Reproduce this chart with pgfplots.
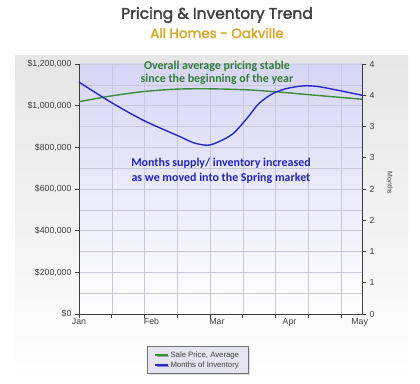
\documentclass[border=0pt]{standalone}
\usepackage{fontspec}
\setmainfont{Liberation Sans}
\newfontfamily\calfont{Carlito}
\newfontfamily\gothic[FakeBold=2.2]{Poppins}
\usepackage{pgfplots}
\pgfplotsset{compat=1.18}
\usetikzlibrary{shadows}
\definecolor{gline}{RGB}{60,140,60}
\definecolor{bline}{RGB}{40,40,200}
\definecolor{gtext}{RGB}{50,125,50}
\definecolor{btext}{RGB}{35,35,190}
\definecolor{gold}{RGB}{215,168,45}
\definecolor{titlegray}{RGB}{64,64,64}
\definecolor{gridc}{RGB}{200,200,220}
\definecolor{lav}{RGB}{214,214,246}
\definecolor{axc}{RGB}{60,60,60}
\definecolor{tickc}{RGB}{60,60,60}
\begin{document}
\begin{tikzpicture}
\useasboundingbox (0,0) rectangle (420bp,384bp);
\shade[top color=black!10, bottom color=white] (15bp,0) rectangle (408bp,328bp);
\node[font=\gothic\fontsize{15.5}{17}\selectfont, text=titlegray] at (217bp,369bp) {Pricing \& Inventory Trend};
\node[font=\gothic\fontsize{13.5}{15}\selectfont, text=gold] at (217bp,351bp) {All Homes - Oakville};
\begin{axis}[
  at={(79bp,70bp)}, anchor=south west,
  scale only axis, width=283bp, height=250bp,
  xmin=0, xmax=121, ymin=0, ymax=1200000,
  scaled y ticks=false,
  axis background/.style={top color=lav, bottom color=white},
  axis y line*=left, axis x line*=bottom,
  axis line style={axc, line width=0.9pt},
  xtick={0,14,...,112}, xticklabels={},
  extra x ticks={0,31,59,90,120},
  extra x tick labels={Jan,Feb,Mar,Apr,May},
  extra x tick style={major tick length=0pt, grid=none, xticklabel style={yshift=-1bp}},
  ytick={0,200000,...,1200000},
  yticklabels={\$0,{\$200,000},{\$400,000},{\$600,000},{\$800,000},{\$1,000,000},{\$1,200,000}},
  minor ytick={100000,300000,...,1100000},
  minor tick length=0pt,
  major tick length=4bp,
  tick align=outside,
  tick style={tickc, line width=0.6pt},
  grid=both,
  major grid style={gridc, line width=0.4pt},
  minor grid style={gridc, line width=0.4pt},
  ticklabel style={font=\fontsize{8.8}{10}\selectfont, text=titlegray},
  clip=false,
]
\addplot[gline, line width=1.4pt, smooth, tension=0.5] coordinates {
 (0,1019000) (14,1047000) (27,1067000) (41,1079000) (55,1081000)
 (72,1076000) (87,1064000) (101,1050000) (121,1031000)};
\node[font=\calfont\bfseries\fontsize{12}{13.3}\selectfont, text=gtext, align=center] at (axis cs:59,1157000) {Overall average pricing stable\\since the beginning of the year};
\node[font=\calfont\bfseries\fontsize{12}{14.4}\selectfont, text=btext, align=center] at (axis cs:60.7,688000) {Months supply/ inventory increased\\as we moved into the Spring market};
\end{axis}
\begin{axis}[
  at={(79bp,70bp)}, anchor=south west,
  scale only axis, width=283bp, height=250bp,
  xmin=0, xmax=121, ymin=0, ymax=4,
  axis y line*=right, axis x line=none,
  axis line style={axc, line width=0.9pt},
  ytick={0,0.5,...,4},
  yticklabels={0,1,1,2,2,3,3,4,4},
  major tick length=4bp,
  tick align=outside,
  tick style={tickc, line width=0.6pt},
  ticklabel style={font=\fontsize{8.8}{10}\selectfont, text=titlegray},
  legend style={at={(0.42,-0.184)}, anchor=center, fill={rgb,255:red,228;green,228;blue,242}, draw=black!55, drop shadow={shadow xshift=1.5pt, shadow yshift=-1.5pt, fill=black!25}, font=\fontsize{7.8}{9}\selectfont, text=titlegray, row sep=-1.2pt, inner xsep=7pt, inner ysep=3pt},
  legend cell align=left,
  legend image code/.code={\draw[#1] (0cm,0cm) -- (0.44cm,0cm);},
  clip=false,
]
\addlegendimage{gline, line width=1.2pt}
\addlegendentry{Sale Price, Average}
\addplot[bline, line width=1.4pt, smooth] coordinates {
 (0,3.71) (14,3.38) (28,3.09) (43,2.84) (49,2.74) (55,2.70) (60,2.76)
 (66,2.89) (72,3.14) (77,3.37) (83,3.53) (89,3.61) (96,3.65) (102,3.64)
 (112,3.57) (121,3.50)};
\addlegendentry{Months of Inventory}
\end{axis}
\node[font=\fontsize{7}{8}\selectfont, text=titlegray, rotate=-90] at (390bp,201bp) {Months};
\end{tikzpicture}
\end{document}
